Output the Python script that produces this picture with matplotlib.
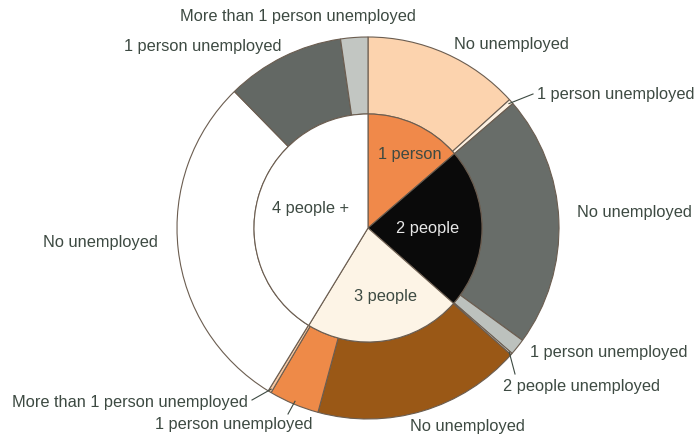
import matplotlib
matplotlib.use("Agg")
import matplotlib.pyplot as plt
import numpy as np

# ---- data (percent of households) ----
inner_labels = ["1 person", "2 people", "3 people", "4 people +"]
inner_values = [13.7, 22.8, 22.2, 41.3]
inner_colors = ["#f0894a", "#0a0a0a", "#fdf4e6", "#ffffff"]

outer_labels = ["No unemployed", "1 person unemployed",
                "No unemployed", "1 person unemployed", "2 people unemployed",
                "No unemployed", "1 person unemployed", "More than 1 person unemployed",
                "No unemployed", "1 person unemployed", "More than 1 person unemployed"]
outer_values = [13.28, 0.42,
                21.31, 1.39, 0.15,
                17.67, 4.25, 0.28,
                28.92, 10.03, 2.30]
outer_colors = ["#fcd3ae", "#fdf1e2",
                "#686d69", "#bcc1bd", "#dcdcd8",
                "#9a5816", "#ee8a48", "#f7c9a4",
                "#ffffff", "#636864", "#c2c6c2"]

W, H = 697, 437
fig = plt.figure(figsize=(W / 100, H / 100), dpi=100)
ax = fig.add_axes([0, 0, 1, 1])

cx, cy = 368, H - 228
r_in, r_out = 114, 191
edge = dict(edgecolor="#6b5d50", linewidth=0.8)

outer_w, _ = ax.pie(outer_values, colors=outer_colors, startangle=90,
                    counterclock=False, radius=r_out, center=(cx, cy),
                    wedgeprops=dict(width=r_out - r_in, **edge), frame=True)
inner_w, _ = ax.pie(inner_values, colors=inner_colors, startangle=90,
                    counterclock=False, radius=r_in, center=(cx, cy),
                    wedgeprops=edge, frame=True)

ax.set_xlim(0, W)
ax.set_ylim(0, H)
ax.set_aspect("equal")
ax.axis("off")

plt.rcParams["font.family"] = ["Liberation Sans", "DejaVu Sans"]
tc = "#3d4a42"
fs = 11.8

def P(x, y):
    return (x, H - y)

def edge_pt(i, r=r_out):
    w = outer_w[i]
    a = np.deg2rad((w.theta1 + w.theta2) / 2)
    return (cx + r * np.cos(a), cy + r * np.sin(a))

# inner labels
inner_pos = [(410, 155), (428, 228), (386, 297), (310, 208)]
for lab, (x, y), col in zip(inner_labels, inner_pos, [tc, "#e8e8e8", tc, tc]):
    ax.text(*P(x, y), lab, ha="center", va="center", fontsize=fs, color=col)

# outer labels: (index, text pos, ha, leader end or None)
outer_text = [
    (10, (298, 16), "center", None),
    (9, (203, 47), "center", None),
    (0, (511, 44), "center", None),
    (1, (537, 95), "left", (533, 94)),
    (2, (577, 213), "left", None),
    (8, (100, 242), "center", None),
    (3, (530, 353), "left", None),
    (4, (503, 387), "left", (515, 374)),
    (5, (467, 427), "center", None),
    (6, (234, 424), "center", (288, 414)),
    (7, (248, 402), "right", (252, 400)),
]
for i, (x, y), ha, lead in outer_text:
    ax.text(*P(x, y), outer_labels[i], ha=ha, va="center",
            fontsize=fs, color=tc)
    if lead is not None:
        ex, ey = edge_pt(i, r_out - 3)
        ax.plot([ex, lead[0]], [ey, H - lead[1]], color=tc, lw=0.8)

fig.savefig("out.png", dpi=100, facecolor="white")
